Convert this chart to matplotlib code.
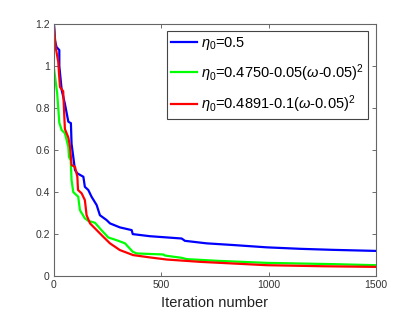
import matplotlib
matplotlib.use("Agg")
import matplotlib.pyplot as plt

plt.rcParams['font.family'] = ['Liberation Sans', 'DejaVu Sans']
plt.rcParams['mathtext.fontset'] = 'custom'
plt.rcParams['mathtext.rm'] = 'Liberation Sans'
plt.rcParams['mathtext.it'] = 'Liberation Sans:italic'

# Series data (iteration, value)
blue_iter = [0, 5, 12, 25, 25, 36, 51, 67, 79, 82, 98, 109, 137, 144, 160, 175, 199, 214, 245,
             261, 307, 362, 367, 447, 595, 610, 711, 835, 991, 1146, 1300, 1500]
blue_val = [1.20, 1.12, 1.09, 1.076, 1.0, 0.886, 0.82, 0.735, 0.728, 0.63, 0.505, 0.489, 0.473,
            0.425, 0.41, 0.378, 0.338, 0.29, 0.267, 0.251, 0.232, 0.219, 0.20, 0.19, 0.179,
            0.168, 0.156, 0.148, 0.137, 0.13, 0.125, 0.12]

green_iter = [0, 15, 25, 36, 51, 67, 70, 78, 82, 90, 113, 121, 144, 160, 191, 214, 253, 292,
              331, 367, 385, 509, 517, 595, 618, 758, 991, 1301, 1500]
green_val = [0.99, 0.87, 0.73, 0.695, 0.68, 0.615, 0.567, 0.552, 0.457, 0.40, 0.378, 0.314,
             0.275, 0.263, 0.254, 0.227, 0.184, 0.171, 0.156, 0.116, 0.108, 0.103, 0.098,
             0.087, 0.081, 0.073, 0.063, 0.057, 0.052]

red_iter = [0, 8, 20, 28, 43, 51, 67, 75, 82, 98, 109, 112, 129, 144, 152, 168, 199, 230,
            261, 307, 369, 447, 525, 680, 991, 1250, 1500]
red_val = [1.19, 1.09, 1.02, 0.90, 0.88, 0.70, 0.66, 0.615, 0.529, 0.52, 0.473, 0.41, 0.394,
           0.362, 0.29, 0.251, 0.219, 0.187, 0.156, 0.124, 0.10, 0.089, 0.079, 0.068, 0.052,
           0.047, 0.044]

labels = [r'$\eta_0$=0.5',
          r'$\eta_0$=0.4750-0.05($\omega$-0.05)$^2$',
          r'$\eta_0$=0.4891-0.1($\omega$-0.05)$^2$']
colors = ['#0000ff', '#00ff00', '#ff0000']

x_ticks = [0, 500, 1000, 1500]
y_ticks = [0, 0.2, 0.4, 0.6, 0.8, 1.0, 1.2]
y_ticklabels = ['0', '0.2', '0.4', '0.6', '0.8', '1', '1.2']

fig = plt.figure(figsize=(4.15, 3.12), dpi=100)
ax = fig.add_axes([0.130, 0.115, 0.776, 0.808])

for xs, ys, c, lab in zip([blue_iter, green_iter, red_iter],
                          [blue_val, green_val, red_val], colors, labels):
    ax.plot(xs, ys, color=c, lw=1.6, label=lab)

ax.set_xlim(0, 1500)
ax.set_ylim(0, 1.2)
ax.set_xticks(x_ticks)
ax.set_yticks(y_ticks)
ax.set_yticklabels(y_ticklabels)
ax.tick_params(direction='in', top=True, right=True, length=3, width=0.6,
               labelsize=7.5, colors='#555555', labelcolor='#333333', pad=3)
for s in ax.spines.values():
    s.set_color('#666666')
    s.set_linewidth(0.8)
ax.set_xlabel('Iteration number', fontsize=10.5, color='#222222', labelpad=4)

leg = ax.legend(loc='upper right', bbox_to_anchor=(0.975, 0.972), borderaxespad=0,
                fontsize=10.5, handlelength=1.8, handletextpad=0.25, labelspacing=0.65,
                fancybox=False, framealpha=1, borderpad=0.3)
leg.get_frame().set_edgecolor('#444444')
leg.get_frame().set_linewidth(0.8)

fig.savefig('out.png', dpi=100)
